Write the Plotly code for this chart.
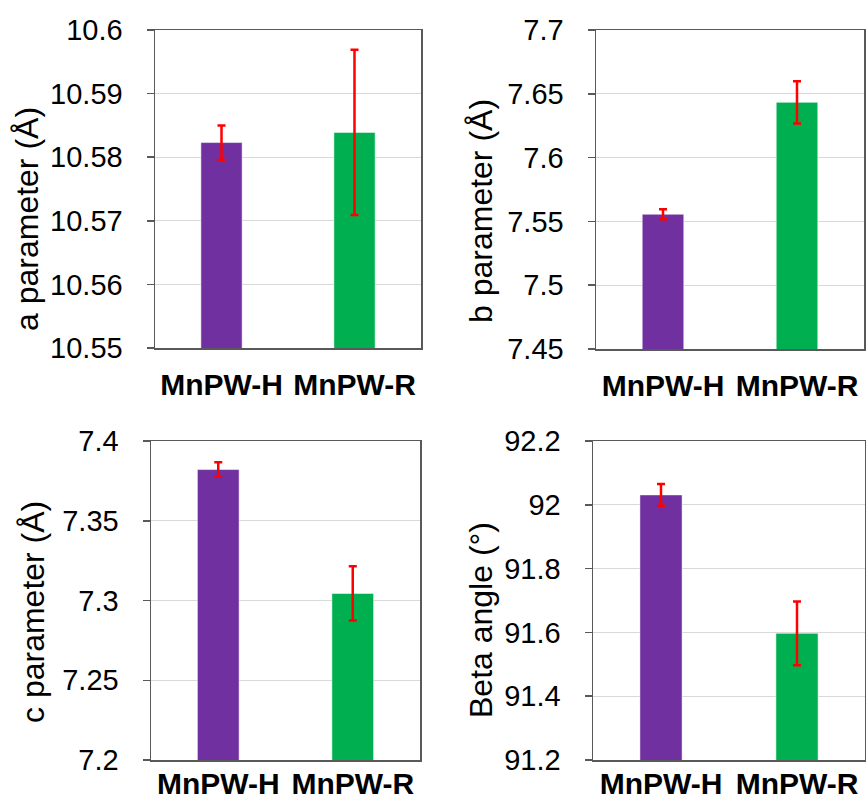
import plotly.graph_objects as go

W, H = 866, 810

samples = ["MnPW-H", "MnPW-R"]
bar_colors = ["#7030A0", "#00B050"]

a_vals = [10.5823, 10.5839]
a_err = [0.0027, 0.0130]
b_vals = [7.5556, 7.6433]
b_err = [0.0040, 0.0165]
c_vals = [7.3821, 7.3044]
c_err = [0.0045, 0.0170]
beta_vals = [92.031, 91.597]
beta_err = [0.034, 0.100]

a_ticks = [10.55, 10.56, 10.57, 10.58, 10.59, 10.6]
a_ticktext = ["10.55", "10.56", "10.57", "10.58", "10.59", "10.6"]
b_ticks = [7.45, 7.5, 7.55, 7.6, 7.65, 7.7]
b_ticktext = ["7.45", "7.5", "7.55", "7.6", "7.65", "7.7"]
c_ticks = [7.2, 7.25, 7.3, 7.35, 7.4]
c_ticktext = ["7.2", "7.25", "7.3", "7.35", "7.4"]
beta_ticks = [91.2, 91.4, 91.6, 91.8, 92.0, 92.2]
beta_ticktext = ["91.2", "91.4", "91.6", "91.8", "92", "92.2"]

titles = ["a parameter (Å)", "b parameter (Å)", "c parameter (Å)", "Beta angle (°)"]

panels = [
    # values, errors, ticks, ticktext, plot box px (x0, x1, ytop, ybottom), title pos px (x, y), x label standoff
    (a_vals, a_err, a_ticks, a_ticktext, (155, 421, 30, 348), (27, 219), 9),
    (b_vals, b_err, b_ticks, b_ticktext, (596, 864, 30, 349), (481, 211), 9),
    (c_vals, c_err, c_ticks, c_ticktext, (151, 420, 441, 760), (33, 612), -4),
    (beta_vals, beta_err, beta_ticks, beta_ticktext, (593, 865, 441, 760), (481, 620), -4),
]

FONT = "Liberation Sans, Arial, sans-serif"
fig = go.Figure()
annotations = []

for i, (vals, errs, ticks, ttext, box, tpos, xstand) in enumerate(panels):
    n = "" if i == 0 else str(i + 1)
    x0, x1, yt, yb = box
    fig.add_trace(go.Bar(
        x=samples, y=vals,
        marker=dict(color=bar_colors, line=dict(color="rgba(255,255,255,0.5)", width=1)),
        width=0.31,
        error_y=dict(type="data", array=errs, visible=True, color="#FF0000",
                     thickness=2.5, width=4),
        xaxis="x" + n, yaxis="y" + n, showlegend=False, hoverinfo="skip",
    ))
    fig.update_layout(**{
        "xaxis" + n: dict(
            domain=[x0 / W, x1 / W], anchor="y" + n, automargin=False,
            showline=True, linecolor="#595959", linewidth=1.5, mirror=True,
            ticks="", showgrid=False,
            tickfont=dict(family=FONT, size=30, color="#000000", weight="bold"),
            ticklabelstandoff=xstand,
        ),
        "yaxis" + n: dict(
            domain=[1 - yb / H, 1 - yt / H], anchor="x" + n, automargin=False,
            range=[ticks[0], ticks[-1]],
            tickvals=ticks, ticktext=ttext,
            showline=True, linecolor="#595959", linewidth=1.5, mirror=True,
            ticks="outside", ticklen=7, tickcolor="#595959", tickwidth=1.5,
            showgrid=True, gridcolor="#D9D9D9", gridwidth=1,
            tickfont=dict(family=FONT, size=29, color="#000000"),
            ticklabelstandoff=18, zeroline=False,
        ),
    })
    annotations.append(dict(
        text=titles[i], x=tpos[0] / W, y=1 - tpos[1] / H, xref="paper", yref="paper",
        textangle=-90, showarrow=False, xanchor="center", yanchor="middle",
        font=dict(family=FONT, size=32, color="#000000"),
    ))

fig.update_layout(
    width=W, height=H,
    margin=dict(l=0, r=0, t=0, b=0),
    paper_bgcolor="white", plot_bgcolor="white",
    annotations=annotations,
    bargap=0.69,
)

fig.write_html(
    "out.html",
    config={"displayModeBar": False, "staticPlot": True},
    post_script="document.body.style.margin='0';document.body.style.overflow='hidden';",
)
